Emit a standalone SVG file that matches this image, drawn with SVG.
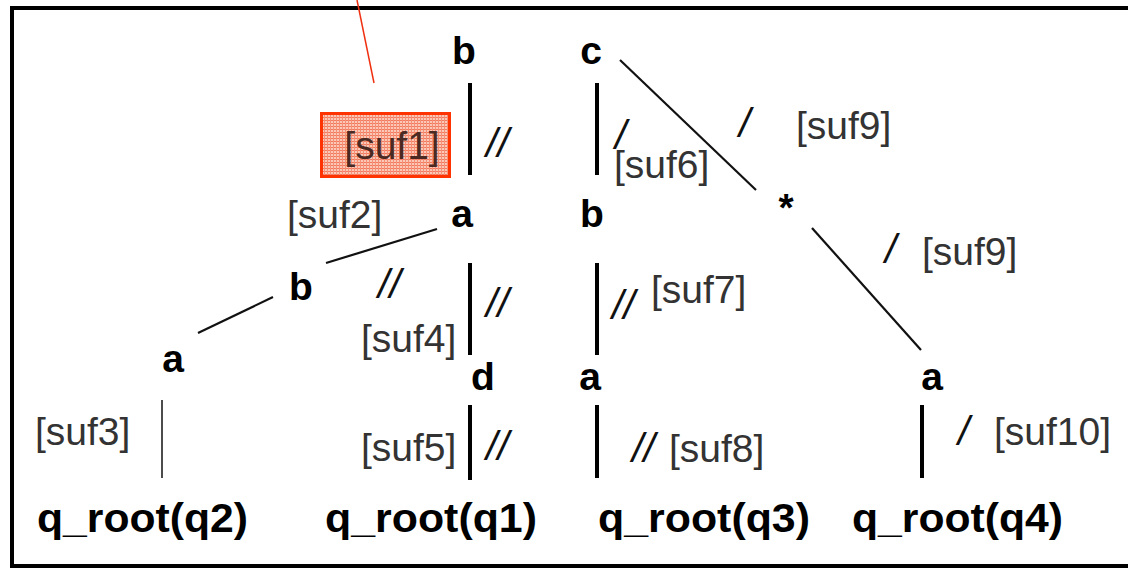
<svg xmlns="http://www.w3.org/2000/svg" width="1128" height="568" viewBox="0 0 1128 568">
<defs>
<pattern id="hatch" width="3" height="3" patternUnits="userSpaceOnUse">
<rect width="3" height="3" fill="#fbc8b8"/>
<rect width="3" height="1" fill="#f27a5e"/>
<rect width="1" height="3" fill="#f58f75"/>
</pattern>
<style>
.lt{font-family:"Liberation Sans",Arial,sans-serif;font-size:39px;font-weight:bold;fill:#000}
.q{font-family:"Liberation Sans",Arial,sans-serif;font-size:41px;font-weight:bold;fill:#000}
.s{font-family:"Liberation Sans",Arial,sans-serif;font-size:39px;fill:#333}
.ax{font-family:"Liberation Sans",Arial,sans-serif;font-size:41px;font-style:italic;fill:#111}
.e4{stroke:#000;stroke-width:4;fill:none}
.e2{stroke:#111;stroke-width:2.2;fill:none}
.e1{stroke:#111;stroke-width:1.5;fill:none}
</style>
</defs>
<rect x="12" y="8" width="1130" height="558" fill="#fff" stroke="#000" stroke-width="4"/>
<g id="callout">
<line x1="357" y1="0" x2="374" y2="83" stroke="#f03010" stroke-width="1.5"/>
<rect x="321.5" y="113.5" width="128" height="63" fill="url(#hatch)" stroke="#ff3300" stroke-width="3"/>
<text x="392" y="159" text-anchor="middle" class="s" style="fill:#4a2a22">[suf1]</text>
</g>
<g id="connectors">
<line x1="470" y1="83" x2="470" y2="175" class="e4"/>
<line x1="597" y1="83" x2="597" y2="175" class="e4"/>
<line x1="620" y1="60" x2="756" y2="190" class="e2"/>
<line x1="812" y1="228" x2="921" y2="350" class="e2"/>
<line x1="437" y1="229" x2="326" y2="263" class="e2"/>
<line x1="273" y1="297" x2="198" y2="333" class="e2"/>
<line x1="470" y1="263" x2="470" y2="355" class="e4"/>
<line x1="597" y1="263" x2="597" y2="355" class="e4"/>
<line x1="162" y1="400" x2="162" y2="478" class="e1"/>
<line x1="470" y1="405" x2="470" y2="480" class="e4"/>
<line x1="597" y1="405" x2="597" y2="478" class="e4"/>
<line x1="922" y1="405" x2="922" y2="478" class="e4"/>
</g>
<g id="edge-labels">
<text x="486" y="157" class="ax">//</text>
<text x="615" y="149" class="ax">/</text>
<text x="614" y="178" class="s">[suf6]</text>
<text x="739" y="137" class="ax">/</text>
<text x="796" y="139" class="s">[suf9]</text>
<text x="287" y="228" class="s">[suf2]</text>
<text x="378" y="298" class="ax">//</text>
<text x="486" y="317" class="ax">//</text>
<text x="361" y="352" class="s">[suf4]</text>
<text x="612" y="319" class="ax">//</text>
<text x="651" y="303" class="s">[suf7]</text>
<text x="885" y="263" class="ax">/</text>
<text x="922" y="265" class="s">[suf9]</text>
<text x="35" y="445" class="s">[suf3]</text>
<text x="361" y="461" class="s">[suf5]</text>
<text x="486" y="460" class="ax">//</text>
<text x="632" y="462" class="ax">//</text>
<text x="669" y="462" class="s">[suf8]</text>
<text x="958" y="445" class="ax">/</text>
<text x="994" y="445" class="s">[suf10]</text>
</g>
<g id="n-b1"><text x="464" y="64" text-anchor="middle" class="lt">b</text></g>
<g id="n-c"><text x="591" y="64" text-anchor="middle" class="lt">c</text></g>
<g id="n-a1"><text x="462" y="227" text-anchor="middle" class="lt">a</text></g>
<g id="n-b2"><text x="592" y="227" text-anchor="middle" class="lt">b</text></g>
<g id="n-star"><text x="786" y="221" text-anchor="middle" class="lt">*</text></g>
<g id="n-b3"><text x="301" y="300" text-anchor="middle" class="lt">b</text></g>
<g id="n-a2"><text x="173" y="372" text-anchor="middle" class="lt">a</text></g>
<g id="n-d"><text x="483" y="390" text-anchor="middle" class="lt">d</text></g>
<g id="n-a3"><text x="590" y="390" text-anchor="middle" class="lt">a</text></g>
<g id="n-a4"><text x="932" y="390" text-anchor="middle" class="lt">a</text></g>
<g id="q2"><text x="37" y="532" textLength="211" lengthAdjust="spacingAndGlyphs" class="q">q_root(q2)</text></g>
<g id="q1"><text x="325" y="532" textLength="212" lengthAdjust="spacingAndGlyphs" class="q">q_root(q1)</text></g>
<g id="q3"><text x="598" y="532" textLength="212" lengthAdjust="spacingAndGlyphs" class="q">q_root(q3)</text></g>
<g id="q4"><text x="852" y="532" textLength="211" lengthAdjust="spacingAndGlyphs" class="q">q_root(q4)</text></g>
</svg>
